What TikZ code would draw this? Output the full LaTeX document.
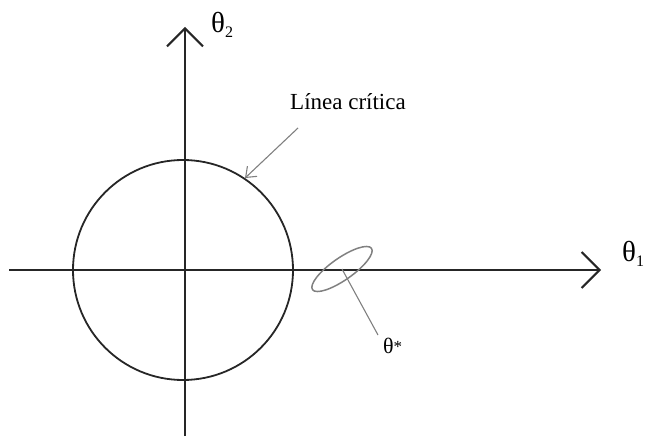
\documentclass[tikz,border=0pt]{standalone}
\usepackage{fontspec}
\setmainfont{Liberation Serif}
\usetikzlibrary{positioning,arrows.meta,shapes.geometric}

\begin{document}
\begin{tikzpicture}[
  x=1pt, y=-1pt,
  axis/.style={line width=2pt, black!85, -{Straight Barb[length=18pt,width=36pt,line width=2pt]}},
  critline/.style={circle, draw, line width=1.8pt, black!85, minimum size=220pt, inner sep=0pt},
  optzone/.style={ellipse, draw, line width=1.5pt, black!50, minimum width=72pt, minimum height=22pt, inner sep=0pt, rotate=35},
  pointer/.style={line width=1.1pt, black!50},
  axislabel/.style={inner sep=0pt, anchor=base west, font=\fontsize{29}{30}\selectfont},
  textlabel/.style={inner sep=0pt, anchor=base west, font=\fontsize{23}{26}\selectfont}
]
  \useasboundingbox (0,0) rectangle (645,438);
  \coordinate (xstart) at (9,270);
  \coordinate (xend) at (601,270);
  \coordinate (ystart) at (185,436);
  \coordinate (yend) at (185,27);
  \draw[axis] (xstart) -- (xend);
  \draw[axis] (ystart) -- (yend);
  \node[axislabel] (thetaone) at (622,262) {θ\raisebox{-5pt}{\fontsize{16}{16}\selectfont 1}};
  \node[axislabel] (thetatwo) at (211,33) {θ\raisebox{-5pt}{\fontsize{16}{16}\selectfont 2}};
  \node[critline] (crit) at (183,270) {};
  \node[optzone] (opt) at (342,269) {};
  \node[textlabel] (critlabel) at (290,110) {Línea crítica};
  \coordinate (critfoot) at (298,128);
  \draw[pointer, -{Straight Barb[length=9pt,width=14pt,line width=1.1pt]}] (critfoot) -- (crit.56);
  \node[textlabel, font=\fontsize{22}{24}\selectfont] (optlabel) at (383,353) {θ\raisebox{1pt}{\fontsize{17}{17}\selectfont *}};
  \draw[pointer] (opt.center) -- ([shift={(-5pt,18pt)}]optlabel.base west);
\end{tikzpicture}
\end{document}
